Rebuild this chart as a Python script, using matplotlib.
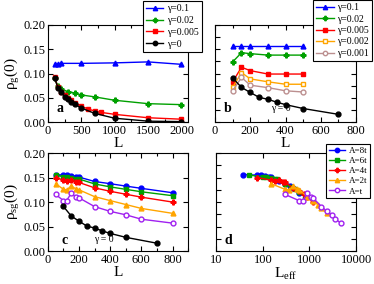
import numpy as np
import matplotlib
matplotlib.use("Agg")
import matplotlib.pyplot as plt
from matplotlib.ticker import MultipleLocator, NullFormatter, LogLocator

plt.rcParams['font.family'] = ['Liberation Serif', 'DejaVu Serif']
plt.rcParams['mathtext.fontset'] = 'custom'
plt.rcParams['mathtext.rm'] = 'Liberation Serif'
plt.rcParams['mathtext.it'] = 'Liberation Serif:italic'
plt.rcParams['mathtext.bf'] = 'Liberation Serif:bold'

# panel a
La_01 = [100, 150, 200, 500, 1000, 1500, 2000]
ya_01 = [0.119, 0.120, 0.121, 0.121, 0.122, 0.124, 0.119]
La_002 = [100, 150, 200, 300, 400, 500, 700, 1000, 1500, 2000]
ya_002 = [0.090, 0.075, 0.068, 0.063, 0.060, 0.056, 0.052, 0.045, 0.038, 0.036]
La_0005 = [100, 150, 200, 250, 300, 350, 400, 500, 600, 700, 800, 1000, 1500, 2000]
ya_0005 = [0.092, 0.072, 0.063, 0.055, 0.050, 0.045, 0.040, 0.033, 0.027, 0.023, 0.020, 0.016, 0.009, 0.006]
La_0 = [100, 150, 200, 250, 300, 350, 400, 500, 700, 1000, 1500, 2000]
ya_0 = [0.091, 0.071, 0.062, 0.052, 0.048, 0.042, 0.037, 0.029, 0.018, 0.008, 0.002, 0.001]

# panel b
Lb = [100, 150, 200, 300, 400, 500]
yb_01 = [0.157, 0.157, 0.157, 0.157, 0.157, 0.157]
yb_002 = [0.124, 0.143, 0.141, 0.138, 0.138, 0.138]
yb_0005 = [0.083, 0.113, 0.106, 0.099, 0.099, 0.099]
yb_0002 = [0.0715, 0.102, 0.089, 0.083, 0.078, 0.078]
yb_0001 = [0.0645, 0.092, 0.076, 0.071, 0.0645, 0.062]
Lb_0 = [100, 150, 200, 250, 300, 350, 400, 500, 700]
yb_0 = [0.091, 0.0715, 0.061, 0.051, 0.047, 0.041, 0.036, 0.028, 0.016]

# panel c (different A)
Lc = [50, 100, 120, 150, 180, 200, 300, 400, 500, 600, 800]
yc_8t = [0.156, 0.155, 0.155, 0.154, 0.152, 0.151, 0.142, 0.1375, 0.1326, 0.128, 0.119]
yc_6t = [0.155, 0.152, 0.151, 0.150, 0.148, 0.147, 0.137, 0.131, 0.126, 0.121, 0.113]
yc_4t = [0.150, 0.145, 0.144, 0.145, 0.141, 0.140, 0.129, 0.122, 0.116, 0.110, 0.100]
yc_2t = [0.1375, 0.126, 0.125, 0.1326, 0.127, 0.125, 0.111, 0.103, 0.095, 0.087, 0.077]
yc_1t = [0.1155, 0.103, 0.103, 0.118, 0.110, 0.1086, 0.0907, 0.081, 0.074, 0.065, 0.057]

# panel d
Leff_8t = [37.5, 75, 90, 112.5, 135, 150, 225, 300, 375, 450, 600]
Leff_6t = [50, 100, 120, 150, 180, 200, 300, 400, 500, 600, 800]
Leff_4t = [75, 150, 180, 225, 270, 300, 450, 600, 750, 900, 1200]
Leff_2t = [150, 300, 360, 450, 540, 600, 900, 1200, 1500, 1800, 2400]
Leff_1t = [300, 600, 720, 900, 1080, 1200, 1800, 2400, 3000, 3600, 4800]

BLUE = '#0000ff'
GREEN = '#00a000'
RED = '#ff0000'
ORANGE = '#ffa500'
BROWN = '#bc8f8f'
PURPLE = '#a020f0'

fig = plt.figure(figsize=(3.74, 2.84), dpi=100)
ax_a = fig.add_axes([0.128, 0.570, 0.375, 0.342])
ax_b = fig.add_axes([0.575, 0.570, 0.377, 0.342])
ax_c = fig.add_axes([0.128, 0.116, 0.375, 0.345])
ax_d = fig.add_axes([0.578, 0.116, 0.374, 0.345])

kw = dict(lw=1.0, ms=3.5)


def style(ax):
    ax.tick_params(which='both', direction='in', top=True, right=True, labelsize=9, pad=2)
    ax.tick_params(which='major', length=3.5, width=0.8)
    ax.tick_params(which='minor', length=2, width=0.8)
    for s in ax.spines.values():
        s.set_linewidth(0.8)


def legend(ax, anchor, size, spacing):
    leg = ax.legend(loc='upper right', bbox_to_anchor=anchor, bbox_transform=fig.transFigure,
                    fontsize=size, frameon=True, fancybox=False, edgecolor='black', framealpha=1,
                    handlelength=1.8, labelspacing=spacing, borderpad=0.3, handletextpad=0.4,
                    borderaxespad=0, markerscale=0.9)
    leg.get_frame().set_linewidth(0.8)
    leg.set_zorder(10)


# a
ax_a.plot(La_01, ya_01, '-^', color=BLUE, label='γ=0.1', **kw)
ax_a.plot(La_002, ya_002, '-P', color=GREEN, label='γ=0.02', **kw)
ax_a.plot(La_0005, ya_0005, '-s', color=RED, label='γ=0.005', **kw)
ax_a.plot(La_0, ya_0, '-o', color='black', label='γ=0', **kw)
ax_a.set_xlim(0, 2100)
ax_a.set_ylim(0, 0.2)
ax_a.xaxis.set_major_locator(MultipleLocator(500))
ax_a.xaxis.set_minor_locator(MultipleLocator(250))
ax_a.yaxis.set_major_locator(MultipleLocator(0.05))
ax_a.set_xlabel('L', fontsize=11, labelpad=0)
ax_a.set_ylabel(r'$\mathregular{\rho_g(0)}$', fontsize=11, labelpad=1)
ax_a.text(0.06, 0.1, 'a', transform=ax_a.transAxes, fontsize=10, fontweight='bold')
style(ax_a)

# b
ax_b.plot(Lb, yb_01, '-^', color=BLUE, label='γ=0.1', **kw)
ax_b.plot(Lb, yb_002, '-P', color=GREEN, label='γ=0.02', **kw)
ax_b.plot(Lb, yb_0005, '-s', color=RED, label='γ=0.005', **kw)
ax_b.plot(Lb, yb_0002, '-s', color=ORANGE, mfc='white', label='γ=0.002', **kw)
ax_b.plot(Lb, yb_0001, '-o', color=BROWN, mfc='white', label='γ=0.001', **kw)
ax_b.plot(Lb_0, yb_0, '-o', color='black', **kw)
ax_b.set_xlim(0, 800)
ax_b.set_ylim(0, 0.2)
ax_b.xaxis.set_major_locator(MultipleLocator(200))
ax_b.xaxis.set_minor_locator(MultipleLocator(100))
ax_b.yaxis.set_major_locator(MultipleLocator(0.025))
ax_b.yaxis.set_major_formatter(NullFormatter())
ax_b.set_xlabel('L', fontsize=11, labelpad=0)
ax_b.text(0.06, 0.1, 'b', transform=ax_b.transAxes, fontsize=10, fontweight='bold')
ax_b.text(0.40, 0.14, 'γ = 0', transform=ax_b.transAxes, fontsize=7, va='center')
style(ax_b)

# legends drawn after b so legend a sits on top of panel b
legend(ax_b, (0.995, 0.999), 7, 0.25)
legend(ax_a, (0.540, 0.996), 7, 0.3)

# c
ax_c.plot(Lc, yc_8t, '-o', color=BLUE, **kw)
ax_c.plot(Lc, yc_6t, '-s', color=GREEN, **kw)
ax_c.plot(Lc, yc_4t, '-P', color=RED, **kw)
ax_c.plot(Lc, yc_2t, '-^', color=ORANGE, **kw)
ax_c.plot(Lc, yc_1t, '-o', color=PURPLE, mfc='white', **kw)
ax_c.plot(Lb_0, yb_0, '-o', color='black', **kw)
ax_c.set_xlim(0, 900)
ax_c.set_ylim(0, 0.2)
ax_c.xaxis.set_major_locator(MultipleLocator(200))
ax_c.xaxis.set_minor_locator(MultipleLocator(100))
ax_c.yaxis.set_major_locator(MultipleLocator(0.05))
ax_c.set_xlabel('L', fontsize=11, labelpad=0)
ax_c.set_ylabel(r'$\mathregular{\rho_{sg}(0)}$', fontsize=11, labelpad=1)
ax_c.text(0.1, 0.07, 'c', transform=ax_c.transAxes, fontsize=10, fontweight='bold')
ax_c.text(0.33, 0.12, 'γ = 0', transform=ax_c.transAxes, fontsize=7, va='center')
style(ax_c)

# d
ax_d.plot(Leff_8t, yc_8t, '-o', color=BLUE, label='A=8t', **kw)
ax_d.plot(Leff_6t, yc_6t, '-s', color=GREEN, label='A=6t', **kw)
ax_d.plot(Leff_4t, yc_4t, '-P', color=RED, label='A=4t', **kw)
ax_d.plot(Leff_2t, yc_2t, '-^', color=ORANGE, label='A=2t', **kw)
ax_d.plot(Leff_1t, yc_1t, '-o', color=PURPLE, mfc='white', label='A=t', **kw)
ax_d.set_xscale('log')
ax_d.set_xlim(10, 10000)
ax_d.set_ylim(0, 0.2)
ax_d.xaxis.set_minor_locator(LogLocator(base=10, subs=np.arange(2, 10)))
ax_d.xaxis.set_minor_formatter(NullFormatter())
ax_d.set_xticks([10, 100, 1000, 10000])
ax_d.set_xticklabels(['10', '100', '1000', '10000'])
ax_d.yaxis.set_major_locator(MultipleLocator(0.025))
ax_d.yaxis.set_major_formatter(NullFormatter())
ax_d.set_xlabel(r'$\mathregular{L_{eff}}$', fontsize=11, labelpad=0)
ax_d.text(0.06, 0.07, 'd', transform=ax_d.transAxes, fontsize=10, fontweight='bold')
style(ax_d)
legend(ax_d, (0.989, 0.493), 6.5, 0.2)

fig.savefig('out.png', dpi=100)
